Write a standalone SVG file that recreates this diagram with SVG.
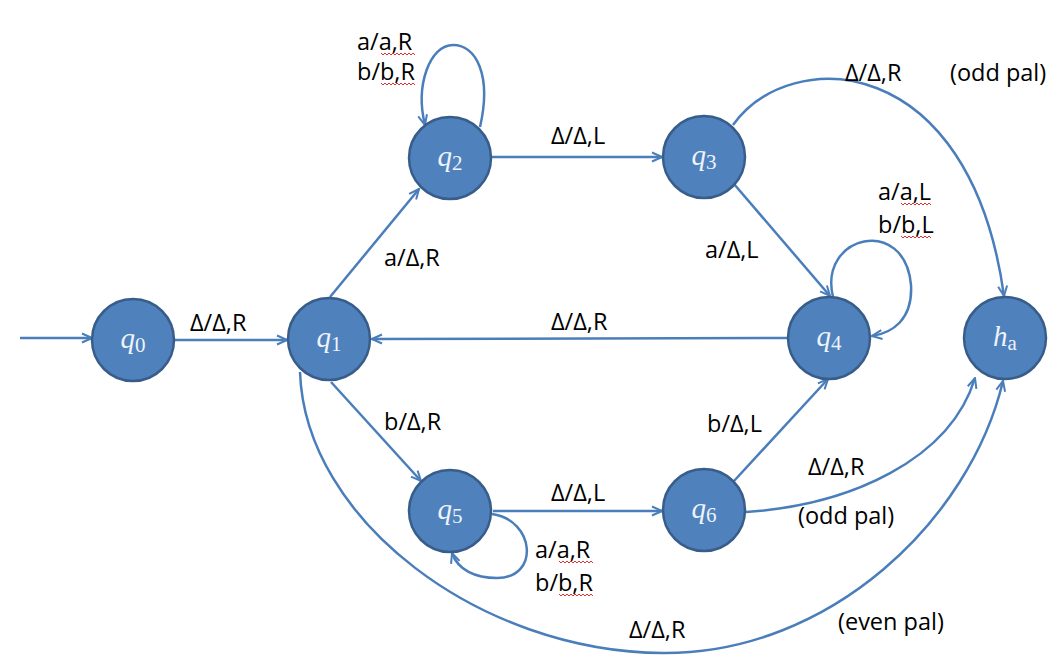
<svg xmlns="http://www.w3.org/2000/svg" width="1060" height="660" viewBox="0 0 1060 660">
<style>
.node{fill:#4F81BD;stroke:#385D8A;stroke-width:2.5}
.nl{font-family:"Liberation Serif",serif;font-style:italic;font-size:29px;fill:#EEF3FA;text-anchor:middle}
.sub{font-style:normal;font-size:21px}
.edge{fill:none;stroke:#4A7EBB;stroke-width:2.5;marker-end:url(#arr)}
.lbl{font-family:"Open Sans",Lato,sans-serif;font-size:23.5px;fill:#000}
.spell{fill:none;stroke:#E03030;stroke-width:1}
</style>
<defs>
<marker id="arr" viewBox="0 0 12 12" refX="11" refY="6" markerWidth="12" markerHeight="12" markerUnits="userSpaceOnUse" orient="auto">
<path d="M1,1.5 L11,6 L1,10.5" fill="none" stroke="#4A7EBB" stroke-width="2"/>
</marker>
</defs>
<rect width="1060" height="660" fill="#fff"/>
<g id="connectors">
<path class="edge" d="M20,338 L92,338"/>
<path class="edge" d="M174,340 L287,340"/>
<path class="edge" d="M330,297 L419,189"/>
<path class="edge" d="M480,127 C492,75 476,45 453,45 C430,45 415,85 425,125"/>
<path class="edge" d="M492,157 L662,157"/>
<path class="edge" d="M733,125 C790,45 970,50 1004,296"/>
<path class="edge" d="M734,184 L830,296"/>
<path class="edge" d="M833,297 C818,235 905,215 911,285 C913,320 892,333 872,336"/>
<path class="edge" d="M789,338 L372,339"/>
<path class="edge" d="M331,382 L421,481"/>
<path class="edge" d="M493,511 L662,511"/>
<path class="edge" d="M492,514 C535,520 540,578 497,578 C475,578 458,570 452,553"/>
<path class="edge" d="M734,481 L828,379"/>
<path class="edge" d="M746,512 C850,505 950,460 975,378"/>
<path class="edge" d="M300,372 C305,520 480,652 663,653 C830,654 970,520 1003,381"/>
</g>
<g id="q0"><circle class="node" cx="133" cy="340" r="41"/><text class="nl" x="133" y="348">q<tspan class="sub" dy="4">0</tspan></text></g>
<g id="q1"><circle class="node" cx="329" cy="339" r="41"/><text class="nl" x="329" y="347">q<tspan class="sub" dy="4">1</tspan></text></g>
<g id="q2"><circle class="node" cx="450" cy="158" r="41"/><text class="nl" x="450" y="166">q<tspan class="sub" dy="4">2</tspan></text></g>
<g id="q3"><circle class="node" cx="704" cy="157" r="41"/><text class="nl" x="704" y="165">q<tspan class="sub" dy="4">3</tspan></text></g>
<g id="q4"><circle class="node" cx="829" cy="338" r="41"/><text class="nl" x="829" y="346">q<tspan class="sub" dy="4">4</tspan></text></g>
<g id="ha"><circle class="node" cx="1005" cy="338" r="41"/><text class="nl" x="1005" y="346">h<tspan class="sub" font-style="italic" dy="4">a</tspan></text></g>
<g id="q5"><circle class="node" cx="450" cy="511" r="41"/><text class="nl" x="450" y="519">q<tspan class="sub" dy="4">5</tspan></text></g>
<g id="q6"><circle class="node" cx="704" cy="510" r="41"/><text class="nl" x="704" y="518">q<tspan class="sub" dy="4">6</tspan></text></g>
<g id="labels">
<text class="lbl" x="190" y="331">Δ/Δ,R</text>
<text class="lbl" x="384" y="266">a/Δ,R</text>
<text class="lbl" x="357" y="50">a/a,R</text>
<text class="lbl" x="357" y="80">b/b,R</text>
<text class="lbl" x="551" y="144">Δ/Δ,L</text>
<text class="lbl" x="845" y="81">Δ/Δ,R</text>
<text class="lbl" x="950" y="81">(odd pal)</text>
<text class="lbl" x="878" y="200">a/a,L</text>
<text class="lbl" x="878" y="233">b/b,L</text>
<text class="lbl" x="705" y="258">a/Δ,L</text>
<text class="lbl" x="551" y="330">Δ/Δ,R</text>
<text class="lbl" x="384" y="430">b/Δ,R</text>
<text class="lbl" x="707" y="432">b/Δ,L</text>
<text class="lbl" x="551" y="501">Δ/Δ,L</text>
<text class="lbl" x="808" y="475">Δ/Δ,R</text>
<text class="lbl" x="798" y="524">(odd pal)</text>
<text class="lbl" x="535" y="558">a/a,R</text>
<text class="lbl" x="535" y="591">b/b,R</text>
<text class="lbl" x="629" y="638">Δ/Δ,R</text>
<text class="lbl" x="838" y="630">(even pal)</text>
</g>
<g id="spellcheck">
<path class="spell" d="M381,53 l2,2 l2,-2 l2,2 l2,-2 l2,2 l2,-2 l2,2 l2,-2 l2,2 l2,-2 l2,2 l2,-2 l2,2 l2,-2 l2,2 l2,-2 l2,2"/>
<path class="spell" d="M381,83 l2,2 l2,-2 l2,2 l2,-2 l2,2 l2,-2 l2,2 l2,-2 l2,2 l2,-2 l2,2 l2,-2 l2,2 l2,-2 l2,2 l2,-2 l2,2"/>
<path class="spell" d="M901,203 l2,2 l2,-2 l2,2 l2,-2 l2,2 l2,-2 l2,2 l2,-2 l2,2 l2,-2 l2,2 l2,-2 l2,2 l2,-2 l2,2"/>
<path class="spell" d="M901,236 l2,2 l2,-2 l2,2 l2,-2 l2,2 l2,-2 l2,2 l2,-2 l2,2 l2,-2 l2,2 l2,-2 l2,2 l2,-2 l2,2"/>
<path class="spell" d="M559,561 l2,2 l2,-2 l2,2 l2,-2 l2,2 l2,-2 l2,2 l2,-2 l2,2 l2,-2 l2,2 l2,-2 l2,2 l2,-2 l2,2 l2,-2 l2,2"/>
<path class="spell" d="M559,594 l2,2 l2,-2 l2,2 l2,-2 l2,2 l2,-2 l2,2 l2,-2 l2,2 l2,-2 l2,2 l2,-2 l2,2 l2,-2 l2,2 l2,-2 l2,2"/>
</g>
</svg>
